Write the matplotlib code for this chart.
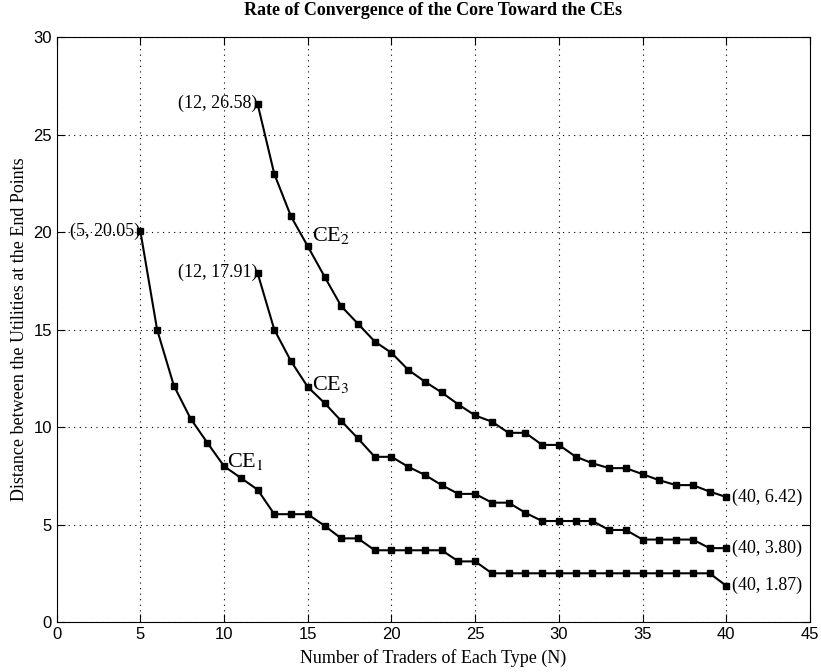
import numpy as np
import matplotlib
matplotlib.use("Agg")
import matplotlib.pyplot as plt

# data
n_ce1 = list(range(5, 41))
ce1 = [20.05, 15.0, 12.13, 10.44, 9.2, 8.0, 7.4, 6.8, 5.54, 5.54, 5.54, 4.95,
       4.3, 4.3, 3.69, 3.69, 3.69, 3.69, 3.69, 3.12, 3.12, 2.51, 2.51, 2.51,
       2.51, 2.51, 2.51, 2.51, 2.51, 2.51, 2.51, 2.51, 2.51, 2.51, 2.51, 1.87]

n_ce2 = list(range(12, 41))
ce2 = [26.58, 22.98, 20.8, 19.27, 17.72, 16.2, 15.3, 14.39, 13.81, 12.94,
       12.33, 11.78, 11.16, 10.6, 10.28, 9.71, 9.71, 9.09, 9.09, 8.49, 8.15,
       7.9, 7.9, 7.59, 7.28, 7.03, 7.03, 6.7, 6.42]

n_ce3 = list(range(12, 41))
ce3 = [17.91, 15.0, 13.38, 12.06, 11.24, 10.32, 9.42, 8.48, 8.48, 7.97, 7.55,
       7.03, 6.58, 6.58, 6.13, 6.13, 5.61, 5.19, 5.19, 5.19, 5.19, 4.73, 4.73,
       4.24, 4.24, 4.24, 4.24, 3.80, 3.80]

plt.rcParams['font.family'] = ['Liberation Serif', 'DejaVu Serif']
plt.rcParams['mathtext.fontset'] = 'stix'

fig = plt.figure(figsize=(8.21, 6.72), dpi=100)
ax = fig.add_axes([0.069, 0.074, 0.9176, 0.871])

for n, d in [(n_ce1, ce1), (n_ce2, ce2), (n_ce3, ce3)]:
    ax.plot(n, d, color='k', lw=1.5, marker='s', ms=5, mfc='k', mec='k')

fs = 13
# end point labels
ax.text(n_ce1[0], ce1[0], '(5, 20.05)', ha='right', va='center', fontsize=fs)
ax.text(n_ce2[0], ce2[0], '(12, 26.58)', ha='right', va='center', fontsize=fs)
ax.text(n_ce3[0], ce3[0], '(12, 17.91)', ha='right', va='center', fontsize=fs)
ax.text(n_ce2[-1] + 0.35, ce2[-1], '(40, 6.42)', ha='left', va='center', fontsize=fs)
ax.text(n_ce3[-1] + 0.35, ce3[-1], '(40, 3.80)', ha='left', va='center', fontsize=fs)
ax.text(n_ce1[-1] + 0.35, ce1[-1], '(40, 1.87)', ha='left', va='center', fontsize=fs)

# curve names
ax.text(10.2, 8.25, 'CE$_1$', ha='left', va='center', fontsize=16)
ax.text(15.25, 19.8, 'CE$_2$', ha='left', va='center', fontsize=16)
ax.text(15.25, 12.2, 'CE$_3$', ha='left', va='center', fontsize=16)

ax.set_xlim(0, 45)
ax.set_ylim(0, 30)
ax.set_xticks(np.arange(0, 46, 5))
ax.set_yticks(np.arange(0, 31, 5))
ax.tick_params(direction='in', top=True, right=True, labelsize=12, length=6)
for lab in ax.get_xticklabels() + ax.get_yticklabels():
    lab.set_family(['Liberation Sans', 'DejaVu Sans'])
ax.grid(True, color='k', linestyle=(0, (1, 4)), linewidth=0.8)
ax.set_xlabel('Number of Traders of Each Type (N)', fontsize=13, labelpad=5)
ax.set_ylabel('Distance between the Utilities at the End Points', fontsize=13, labelpad=4)
ax.set_title('Rate of Convergence of the Core Toward the CEs', fontsize=13,
             fontweight='bold', pad=16)

plt.savefig('out.png', dpi=100)
